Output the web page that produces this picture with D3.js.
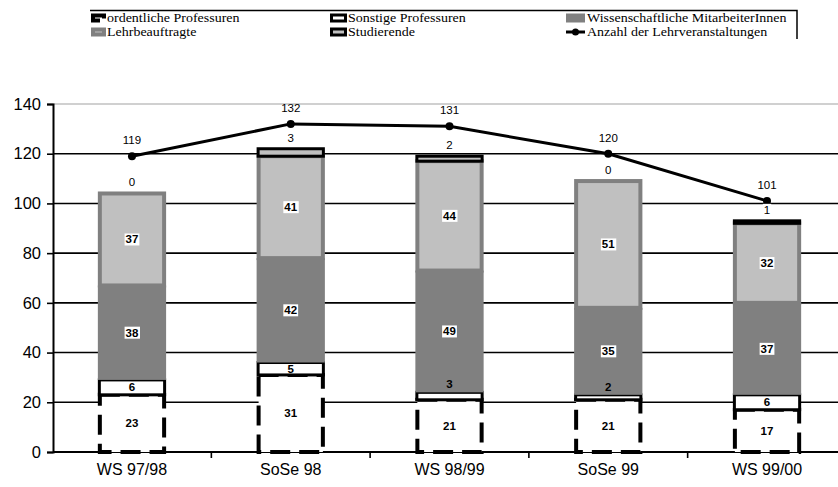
<!DOCTYPE html>
<html><head><meta charset="utf-8">
<script src="https://cdn.jsdelivr.net/npm/d3@7"></script>
<style>
html,body{margin:0;padding:0;background:#fff;}
svg{display:block;}
</style></head>
<body>
<script>
const categories = ["WS 97/98","SoSe 98","WS 98/99","SoSe 99","WS 99/00"];
const ordentliche = [23,31,21,21,17];
const sonstige = [6,5,3,2,6];
const wissMA = [38,42,49,35,37];
const lehrbeauftragte = [37,41,44,51,32];
const studierende = [0,3,2,0,1];
const lehrveranstaltungen = [119,132,131,120,101];
const yTicks = [0,20,40,60,80,100,120,140];
const legendLabels = ["ordentliche Professuren","Sonstige Professuren","Wissenschaftliche MitarbeiterInnen","Lehrbeauftragte","Studierende","Anzahl der Lehrveranstaltungen"];

const W = 838, H = 487;
const svg = d3.select("body").append("svg").attr("width", W).attr("height", H);

const keys = ["ord","son","wis","leh","stu"];
const rows = categories.map((c,i)=>({cat:c, ord:ordentliche[i], son:sonstige[i], wis:wissMA[i], leh:lehrbeauftragte[i], stu:studierende[i], total:lehrveranstaltungen[i]}));

const x = d3.scaleBand().domain(categories).range([52.6, 846.4]).padding(0);
const y = d3.scaleLinear().domain([0,140]).range([452,104]);
const barW = x.bandwidth()*0.43;
const cx = c => x(c) + x.bandwidth()/2;

// gridlines
svg.append("g").selectAll("line").data(yTicks.filter(t=>t>0)).join("line")
  .attr("x1", 53).attr("x2", W).attr("y1", d=>y(d)).attr("y2", d=>y(d))
  .attr("stroke", d=> d===140 ? "#c0c0c0" : "#000").attr("stroke-width", d=> d===140 ? 1.5 : 1.6);

// y axis
const yAxis = svg.append("g").attr("transform","translate(53,0)")
  .call(d3.axisLeft(y).tickValues(yTicks).tickSize(6).tickPadding(6));
yAxis.select(".domain").attr("stroke","#000").attr("stroke-width",2);
yAxis.selectAll(".tick line").attr("stroke","#000").attr("stroke-width",1.6);
yAxis.selectAll("text").attr("font-family","Arial, 'Liberation Sans', sans-serif").attr("font-size",16.5).attr("fill","#000");

// x axis
const xAxis = svg.append("g").attr("transform",`translate(0,${y(0)})`)
  .call(d3.axisBottom(x).tickSize(0).tickPadding(12));
xAxis.select(".domain").remove();
xAxis.selectAll("text").attr("font-family","Arial, 'Liberation Sans', sans-serif").attr("font-size",16).attr("fill","#000");
svg.append("line").attr("x1",53).attr("x2",W).attr("y1",y(0)).attr("y2",y(0)).attr("stroke","#000").attr("stroke-width",2);
svg.append("g").selectAll("line").data(categories.slice(1)).join("line")
  .attr("x1", d=>x(d)).attr("x2", d=>x(d)).attr("y1", y(0)).attr("y2", y(0)+6)
  .attr("stroke","#000").attr("stroke-width",1.6);

// stacks
const stack = d3.stack().keys(keys)(rows);
const styles = {
  ord:{fill:"#fff", stroke:"#000", sw:4, dash:"20,9", inset:2},
  son:{fill:"#fff", stroke:"#000", sw:3, dash:null, inset:1.5},
  wis:{fill:"#808080", stroke:"none", sw:0, dash:null, inset:0},
  leh:{fill:"#c0c0c0", stroke:"#808080", sw:4, dash:null, inset:2},
  stu:{fill:"#c0c0c0", stroke:"#000", sw:3, dash:null, inset:1.5}
};
stack.forEach(layer=>{
  const s = styles[layer.key];
  svg.append("g").selectAll("rect").data(layer.filter(d=>d[1]-d[0]>0)).join("rect")
    .attr("x", d=>cx(d.data.cat)-barW/2 + s.inset)
    .attr("width", barW - 2*s.inset)
    .attr("y", d=>y(d[1]))
    .attr("height", d=>y(d[0])-y(d[1]))
    .attr("fill", s.fill).attr("stroke", s.stroke).attr("stroke-width", s.sw)
    .attr("stroke-dasharray", s.dash);
});

// line
svg.append("path").datum(rows)
  .attr("d", d3.line().x(d=>cx(d.cat)).y(d=>y(d.total)))
  .attr("fill","none").attr("stroke","#000").attr("stroke-width",3);
svg.append("g").selectAll("circle").data(rows).join("circle")
  .attr("cx", d=>cx(d.cat)).attr("cy", d=>y(d.total)).attr("r",4).attr("fill","#000");

// labels
const font = "Arial, 'Liberation Sans', sans-serif";
function label(g, tx, ty, txt, bold, box, size){
  const t = g.append("text").attr("x",tx).attr("y",ty).attr("text-anchor","middle")
    .attr("dominant-baseline","central").attr("font-family",font)
    .attr("font-size",size).attr("font-weight",bold?"bold":"normal").attr("fill","#000").text(txt);
  if(box){
    const bb = t.node().getBBox();
    g.insert("rect", () => t.node()).attr("x",bb.x-1).attr("y",bb.y).attr("width",bb.width+2).attr("height",bb.height).attr("fill","#fff");
  }
}
const lg = svg.append("g");
stack.forEach(layer=>{
  layer.forEach(d=>{
    const v = d[1]-d[0];
    const c = cx(d.data.cat);
    if(layer.key==="stu"){
      label(lg, c, y(d[1])-11, String(v), false, true, 11.5);
    } else if(layer.key==="son"){
      const ty = v < 4 ? y(d[1]) - 8 : (y(d[0])+y(d[1]))/2;
      label(lg, c, ty, String(v), true, false, 11.5);
    } else {
      label(lg, c, (y(d[0])+y(d[1]))/2, String(v), true, layer.key!=="ord", 11.5);
    }
  });
});
rows.forEach(d=>{
  label(lg, cx(d.cat), y(d.total)-16, String(d.total), false, false, 11.5);
});

// legend
const leg = svg.append("g");
leg.append("path").attr("d","M90,10.5H797V39").attr("fill","none").attr("stroke","#000").attr("stroke-width",1.5);
const colX = [91, 330, 566];
const textX = [107, 348, 587];
const rowY = [18, 32];
const lf = "'Liberation Serif','Times New Roman',serif";
legendLabels.forEach((t,i)=>{
  const col = i%3, row = Math.floor(i/3);
  const sx = colX[col], sy = rowY[row];
  const k = ["ord","son","wis","leh","stu","line"][i];
  const w = col===0 ? 15 : (col===1 ? 17 : 19), h = 9;
  if(k==="line"){
    leg.append("line").attr("x1",sx).attr("x2",sx+w).attr("y1",sy).attr("y2",sy).attr("stroke","#000").attr("stroke-width",3);
    leg.append("circle").attr("cx",sx+w/2).attr("cy",sy).attr("r",3.5).attr("fill","#000");
  } else {
    const s = styles[k];
    const sw = s.sw;
    leg.append("rect").attr("x",sx+ sw/2).attr("y",sy-h/2+sw/2).attr("width",w - sw).attr("height",h-sw)
      .attr("fill",s.fill).attr("stroke",s.stroke).attr("stroke-width",sw)
      .attr("stroke-dasharray", k==="ord" ? "14,6" : null);
  }
  leg.append("text").attr("transform",`translate(${textX[col]},${sy+4}) scale(1.12,1)`)
    .attr("font-family",lf).attr("font-size",12.5).attr("fill","#000").text(t);
});
</script>
</body></html>
